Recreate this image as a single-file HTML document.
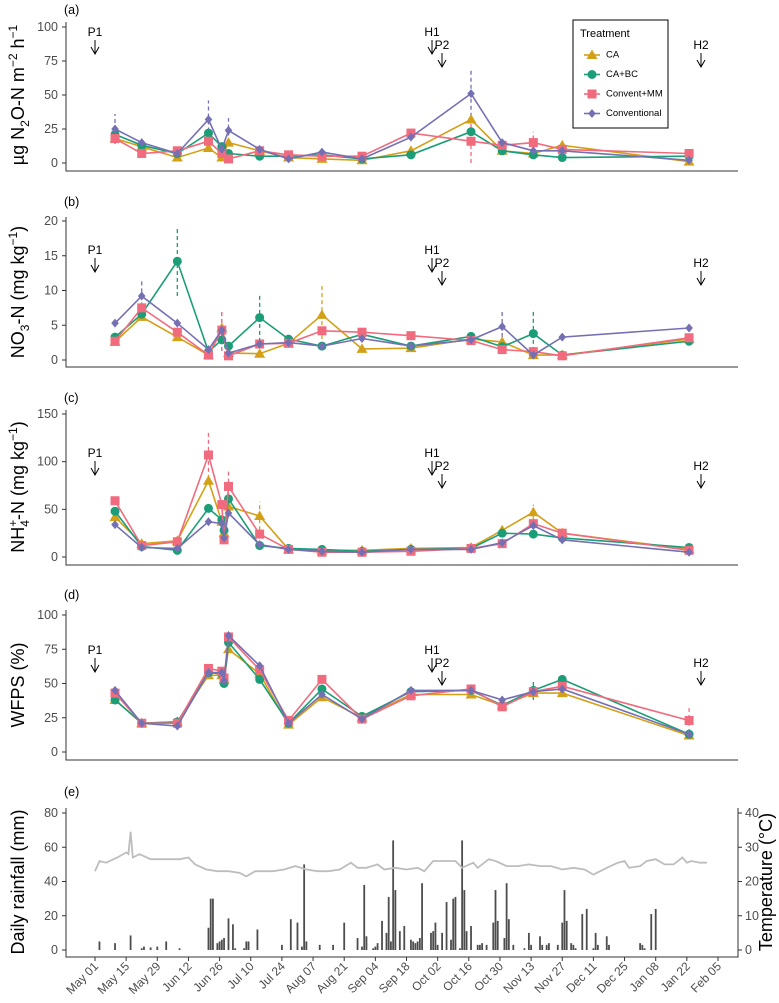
<!DOCTYPE html>
<html><head><meta charset="utf-8"><style>
html,body{margin:0;padding:0;background:#fff;}
svg{display:block;font-family:"Liberation Sans",Arial,sans-serif;}
</style></head><body>
<svg id="chart" width="779" height="1003" viewBox="0 0 779 1003" xmlns="http://www.w3.org/2000/svg"></svg>
<script>
// ---------- data ----------
const seriesNames = ['CA','CA+BC','Convent+MM','Conventional'];
const seriesColors = ['#d4a017','#1b9e77','#f06b7e','#7570b3'];
const xTickLabels = ['May 01','May 15','May 29','Jun 12','Jun 26','Jul 10','Jul 24','Aug 07','Aug 21','Sep 04','Sep 18','Oct 02','Oct 16','Oct 30','Nov 13','Nov 27','Dec 11','Dec 25','Jan 08','Jan 22','Feb 05'];
const xTickDays = [0,14,28,42,56,70,84,98,112,126,140,154,168,182,196,210,224,238,252,266,280];

const datesAB = [9,21,37,51,57,60,74,87,102,120,142,169,183,197,210,267];
const datesCD = [9,21,37,51,57,58,60,74,87,102,120,142,169,183,197,210,267];

const n2oCA   = [18,12,4,11,4,15,9,4,3,2,9,32,9,7,13,1];
const n2oBC   = [21,13,7,22,12,7,5,5,6,3,6,23,9,6,4,5];
const n2oMM   = [18,7,9,16,7,3,9,6,5,5,22,16,13,15,10,7];
const n2oConv = [25,15,7,32,10,24,10,3,8,3,19,51,15,9,9,2];

const no3CA   = [2.6,6.2,3.3,0.7,4.6,1.0,0.9,2.4,6.5,1.6,1.7,3.0,2.6,0.7,0.7,3.0];
const no3BC   = [3.3,6.6,14.2,1.2,2.9,2.0,6.1,3.0,2.0,3.7,2.0,3.4,1.9,3.8,0.7,2.7];
const no3MM   = [2.7,7.5,4.0,0.7,4.3,0.6,2.3,2.4,4.2,4.0,3.5,2.8,1.5,1.2,0.6,3.2];
const no3Conv = [5.3,9.2,5.3,1.5,4.3,1.0,2.3,2.5,2.0,3.1,2.0,2.9,4.8,0.7,3.3,4.6];

const nh4CA   = [42,14,17,80,37,25,53,43,8,7,7,9,10,28,47,25,8];
const nh4BC   = [48,11,7,51,39,28,61,12,9,8,6,8,9,25,24,20,10];
const nh4MM   = [59,12,16,107,55,18,74,24,8,5,5,6,9,14,35,25,7];
const nh4Conv = [34,10,9,37,35,20,46,13,8,6,5,8,8,15,33,18,5];

const wfpsCA   = [38,21,22,56,56,53,75,57,20,40,25,42,42,34,43,43,12];
const wfpsBC   = [38,21,22,58,57,50,80,53,21,46,26,44,45,34,45,53,13];
const wfpsMM   = [43,21,21,61,59,54,84,60,23,53,24,41,46,33,44,48,23];
const wfpsConv = [45,21,19,58,58,52,85,63,21,42,24,45,45,38,44,46,13];

// error bars (panel, series index, point index, half-size)
const errPanel  = ['a','a','a','a','a','a','b','b','b','b','b','b','b','b','c','c','c','c','d','d'];
const errSeries = [3,3,3,3,2,2,3,1,3,2,1,0,1,3,2,2,0,0,1,2];
const errIndex  = [0,3,5,11,11,13,1,2,4,4,6,8,13,12,3,6,7,14,14,16];
const errSize   = [11,14,9,17,16,8,2.5,5,3,3,3.5,4.5,3.5,2.5,25,18,15,8,7,9];

const rainDay = [2,9,16,21,22,25,28,32,38,51,52,53,55,56,57,58,60,62,63,67,68,69,73,84,88,91,93,94,95,101,107,112,118,120,121,122,125,126,127,129,131,132,133,134,135,137,139,142,143,144,145,146,147,151,152,153,154,156,158,160,161,162,164,165,166,167,169,172,173,174,176,179,180,181,184,185,186,188,193,195,196,200,201,203,204,208,210,211,212,214,215,216,219,221,224,225,226,230,231,245,246,247,250,252];
const rainMm  = [5,4,8.5,1,2,1.5,2,5,1,13,30,30,4,5,6,7,18.5,15,1,1,5,5,12,3,18,16,2,50,5,3,3,16,7,2,38,8,1,2,4,17,10,31,5,64,35,11,14,6,5,4,5,7,39,10,11,16,3,10,28,6,30,31,1,64,35,11,14,3,3,4,3,16,35,17,7,39,18,3,1,10,3,8,3,3,4,3,16,35,17,4,3,1,21,24,1,10,3,8,3,4,3,1,21,24];

const tempDay = [0,2,5,10,14,15,16,17,20,25,30,35,38,42,45,50,55,60,65,68,72,80,85,90,95,100,105,110,115,118,122,127,130,135,140,145,148,152,157,162,165,170,172,177,180,185,190,195,200,205,210,215,220,224,230,235,238,240,245,248,252,256,260,264,266,268,272,275];
const tempC   = [23,26,25.5,27,28.5,28,34.5,27,28,26.5,26.5,26.5,26.5,27,25,23.5,23,23,22.5,21.5,23,23,23.5,24.5,23.5,23,23,23.5,25.5,24,24,25,23.5,24,23.5,24,23,26,26,26,24,25.5,24,26.5,26,24.5,24.5,25,24.5,24.5,23.5,24,23.5,22,24,25.5,26,24,24.5,26,26.5,25,25,27,25.5,26,25.5,25.5];

// ---------- helpers ----------
const NS='http://www.w3.org/2000/svg';
const svg=document.getElementById('chart');
function mk(tag,attrs,parent){const e=document.createElementNS(NS,tag);for(const k in attrs)e.setAttribute(k,attrs[k]);(parent||svg).appendChild(e);return e;}
const xDay = d => 95 + d*2.225;
const X0=66, X1=738;

const panels = [
 {id:'a',tag:'(a)',tagY:14,y0:163,y1:27,v1:100,ticks:[0,25,50,75,100],axisY:171,topLine:22,arrowY:32,dates:datesAB,data:[n2oCA,n2oBC,n2oMM,n2oConv]},
 {id:'b',tag:'(b)',tagY:206,y0:360,y1:221,v1:20,ticks:[0,5,10,15,20],axisY:367,topLine:217,arrowY:250,dates:datesAB,data:[no3CA,no3BC,no3MM,no3Conv]},
 {id:'c',tag:'(c)',tagY:402,y0:557,y1:414,v1:150,ticks:[0,50,100,150],axisY:565,topLine:410,arrowY:453,dates:datesCD,data:[nh4CA,nh4BC,nh4MM,nh4Conv]},
 {id:'d',tag:'(d)',tagY:599,y0:752,y1:615,v1:100,ticks:[0,25,50,75,100],axisY:760,topLine:610,arrowY:650,dates:datesCD,data:[wfpsCA,wfpsBC,wfpsMM,wfpsConv]}
];

function marker(g,s,cx,cy,col){
  let e;
  if(s===0) e=mk('polygon',{points:`${cx},${cy-5.5} ${cx-5.5},${cy+4} ${cx+5.5},${cy+4}`,fill:col},g);
  else if(s===1) e=mk('circle',{cx:cx,cy:cy,r:4.5,fill:col},g);
  else if(s===2) e=mk('rect',{x:cx-4.5,y:cy-4.5,width:9,height:9,fill:col},g);
  else e=mk('polygon',{points:`${cx},${cy-4.5} ${cx+3.8},${cy} ${cx},${cy+4.5} ${cx-3.8},${cy}`,fill:col},g);
  return e;
}
function tickLabel(x,y,txt,anchor){const t=mk('text',{x:x,y:y,'font-size':12.5,fill:'#4d4d4d','text-anchor':anchor||'end','dominant-baseline':'central'});t.textContent=txt;return t;}
function arrow(g,x,ly,label){
  const t=mk('text',{x:x,y:ly,'font-size':12,fill:'#000','text-anchor':'middle','dominant-baseline':'central'},g);t.textContent=label;
  mk('path',{d:`M${x},${ly+8} V${ly+22} M${x-4},${ly+15} L${x},${ly+22} L${x+4},${ly+15}`,stroke:'#000','stroke-width':1,fill:'none'},g);
}

// ---------- panels a-d ----------
panels.forEach(p=>{
  const g=mk('g',{});
  
  
  const yv = v => p.y0 - v*(p.y0-p.y1)/p.v1;
  const tg=mk('text',{x:64,y:p.tagY,'font-size':12.5,fill:'#000'},g);tg.textContent=p.tag;
  
  
  const ax=mk('path',{d:`M${X0},${p.topLine} V${p.axisY} H${X1}`,stroke:'#333','stroke-width':1,fill:'none'},g);
  
  
  p.ticks.forEach(v=>{
    mk('line',{x1:62,x2:66,y1:yv(v),y2:yv(v),stroke:'#333'},g);
    const t=tickLabel(58,yv(v),String(v));
    
    
  });
  // arrows
  const ag=mk('g',{},g);
  
  
  arrow(ag,95,p.arrowY,'P1');
  arrow(ag,432,p.arrowY,'H1');
  arrow(ag,442,p.arrowY+13,'P2');
  arrow(ag,701,p.arrowY+13,'H2');
  // error bars
  errPanel.forEach((pp,k)=>{
    if(pp!==p.id) return;
    const s=errSeries[k], i=errIndex[k], e=errSize[k];
    const v=p.data[s][i], cx=xDay(p.dates[i]);
    const l=mk('line',{x1:cx,x2:cx,y1:yv(Math.max(0,v-e)),y2:yv(v+e),stroke:seriesColors[s],'stroke-width':1.3,'stroke-dasharray':'4,3'},g);
    
    
  });
  // series
  p.data.forEach((arr,s)=>{
    const sg=mk('g',{},g);
    
    
    const pts=arr.map((v,i)=>xDay(p.dates[i]).toFixed(1)+','+yv(v).toFixed(1)).join(' ');
    mk('polyline',{points:pts,fill:'none',stroke:seriesColors[s],'stroke-width':1.6},sg);
    arr.forEach((v,i)=>{
      const m=marker(sg,s,xDay(p.dates[i]),yv(v),seriesColors[s]);
      
      
    });
  });
});

// ---------- y titles ----------
function ytitle(x,y,html,name,rot){
  const t=mk('text',{x:0,y:0,'font-size':18,fill:'#000','text-anchor':'middle',transform:`translate(${x},${y}) rotate(${rot||-90})`});
  t.innerHTML=html;
  
  
}
ytitle(24,95,'µg N<tspan font-size="12" dy="5">2</tspan><tspan dy="-5">O-N m</tspan><tspan font-size="12" dy="-7">−2</tspan><tspan dy="7"> h</tspan><tspan font-size="12" dy="-7">−1</tspan>','y-axis-title-n2o');
ytitle(24,292,'NO<tspan font-size="12" dy="5">3</tspan><tspan dy="-5">-N (mg kg</tspan><tspan font-size="12" dy="-7">−1</tspan><tspan dy="7">)</tspan>','y-axis-title-no3');
ytitle(24,487,'NH<tspan font-size="12" dy="-7">+</tspan><tspan font-size="12" dx="-7" dy="12">4</tspan><tspan dy="-5">-N (mg kg</tspan><tspan font-size="12" dy="-7">−1</tspan><tspan dy="7">)</tspan>','y-axis-title-nh4');
ytitle(24,685,'WFPS (%)','y-axis-title-wfps');
ytitle(24,882,'Daily rainfall (mm)','y-axis-title-rainfall');
ytitle(772,882,'Temperature (°C)','y-axis-title-temperature');

// ---------- legend ----------
const lg=mk('g',{});


mk('rect',{x:573,y:20,width:95,height:108,fill:'#fff',stroke:'#000','stroke-width':1},lg);
const lt=mk('text',{x:580,y:37,'font-size':11,fill:'#000'},lg);lt.textContent='Treatment';
seriesNames.forEach((nm,s)=>{
  const yy=55+s*19.5;
  const eg=mk('g',{},lg);
  
  
  mk('line',{x1:584,x2:600,y1:yy,y2:yy,stroke:seriesColors[s],'stroke-width':1.6},eg);
  marker(eg,s,592,yy,seriesColors[s]);
  const t=mk('text',{x:606,y:yy,'font-size':9.5,fill:'#000','dominant-baseline':'central'},eg);t.textContent=nm;
});

// ---------- panel e ----------
const ge=mk('g',{});


const eY0=950, eY1=813;
const yRain = v => eY0 - v*(eY0-eY1)/80;
const yTemp = v => eY0 - v*(eY0-eY1)/40;
const te=mk('text',{x:64,y:796,'font-size':12.5,fill:'#000'},ge);te.textContent='(e)';


rainDay.forEach((d,i)=>{
  const b=mk('rect',{x:xDay(d)-0.9,y:yRain(rainMm[i]),width:1.8,height:eY0-yRain(rainMm[i]),fill:'#4d4d4d'},ge);
  
  
});
const tl=mk('polyline',{points:tempDay.map((d,i)=>xDay(d).toFixed(1)+','+yTemp(tempC[i]).toFixed(1)).join(' '),fill:'none',stroke:'#bdbdbd','stroke-width':1.8},ge);


const eax=mk('path',{d:`M${X0},808 V957 H${X1} V808`,stroke:'#333',fill:'none','stroke-width':1},ge);


[0,20,40,60,80].forEach(v=>{
  mk('line',{x1:62,x2:66,y1:yRain(v),y2:yRain(v),stroke:'#333'},ge);
  const t=tickLabel(58,yRain(v),String(v));
  
  
});
[0,10,20,30,40].forEach(v=>{
  mk('line',{x1:738,x2:742,y1:yTemp(v),y2:yTemp(v),stroke:'#333'},ge);
  const t=tickLabel(745,yTemp(v),String(v),'start');
  
  
});
xTickDays.forEach((d,i)=>{
  const x=xDay(d);
  mk('line',{x1:x,x2:x,y1:957,y2:961,stroke:'#333'},ge);
  const t=mk('text',{x:0,y:0,'font-size':12,fill:'#4d4d4d','text-anchor':'end',transform:`translate(${x+4},${967}) rotate(-45)`},ge);
  t.textContent=xTickLabels[i];
  
  
});
</script>
</body></html>
